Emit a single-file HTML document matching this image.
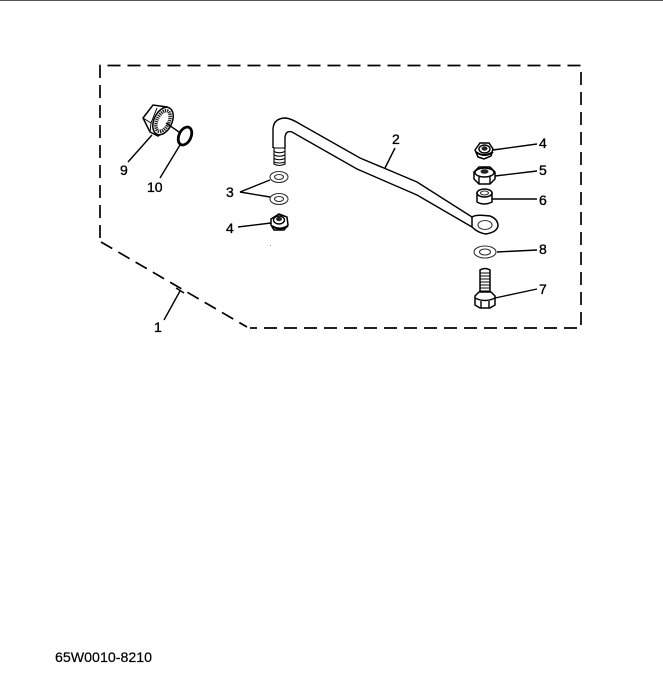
<!DOCTYPE html>
<html>
<head>
<meta charset="utf-8">
<style>
html,body{margin:0;padding:0;background:#fff;width:663px;height:694px;overflow:hidden}
svg{display:block;filter:blur(.3px)}
text{font-family:"Liberation Sans",sans-serif;font-size:14px;fill:#000;stroke:#000;stroke-width:.35}
.l{fill:none;stroke:#000;stroke-width:1.4}
.p{fill:#fff;stroke:#000;stroke-width:1.5}
.w{fill:#fff;stroke:#333;stroke-width:1.1}
.d{fill:none;stroke:#000;stroke-width:1.7;stroke-dasharray:13 7}
</style>
</head>
<body>
<svg width="663" height="694" viewBox="0 0 663 694" xmlns="http://www.w3.org/2000/svg">
<rect x="0" y="0" width="663" height="1" fill="#555"/>

<!-- dashed outline -->
<path class="d" d="M100 238V65.500H581V328H250"/>
<path class="d" d="M101 242L247 327"/>

<!-- rod -->
<path class="l" d="M273 148V130Q273 118 286 118Q292 119 300 124L360 158L417 182L472 217"/>
<path class="l" d="M285 148V137Q286 130 292 132L357 169L417 195L472 227"/>
<path class="p" d="M472 217Q476 214 490 216Q498 219 498 226Q497 232 486 234Q478 233 472 227Z"/>
<ellipse class="w" cx="485" cy="225" rx="7" ry="4.500"/>
<!-- rod thread -->
<path class="l" style="stroke-width:1.100" d="M274 147V164Q279 167 285 164V147M274 148H285M274 151.500Q279 154 285 151.500M274 155Q279 157.500 285 155M274 158.500Q279 161 285 158.500M274 162Q279 164 285 162"/>

<!-- 9 nut -->
<path class="p" d="M143 118L153 105L167 107L173 118L167 130L158 136L150 132Z"/>
<path class="l" style="stroke-width:1" d="M143 118L151 123L150 132M151 123L157 108"/>
<ellipse class="p" cx="163" cy="121" rx="9" ry="14.500" transform="rotate(25 163 121)"/>
<ellipse cx="163" cy="121" rx="6" ry="11" fill="none" style="stroke:#222;stroke-width:3.500;stroke-dasharray:1.300 .8" transform="rotate(25 163 121)"/>
<path class="l" d="M166 123L179 132"/>
<!-- 10 ring -->
<ellipse cx="185" cy="136" rx="6" ry="9.500" fill="#fff" stroke="#000" stroke-width="2.800" transform="rotate(25 185 136)"/>

<!-- 3 washers -->
<ellipse class="w" cx="279" cy="177" rx="9" ry="5.500"/>
<ellipse class="w" cx="279" cy="177" rx="4.500" ry="2.500"/>
<ellipse class="w" cx="279" cy="199" rx="9" ry="5.500"/>
<ellipse class="w" cx="279" cy="199" rx="4.500" ry="2.500"/>

<!-- 4 left nut -->
<path class="p" d="M271 219L279 214L287 217L288 225L284 230H274L271 225Z"/>
<ellipse class="l" cx="279" cy="220" rx="5.500" ry="4"/>
<ellipse cx="279" cy="219" rx="3" ry="2.200" fill="#222"/>
<path class="l" style="stroke-width:2" d="M272 226Q279 231 288 226"/>
<rect x="270" y="245" width="1" height="1" fill="#999"/>

<!-- 4 right nut -->
<path class="p" d="M475 150L480 143H489L493 149L491 156L484 159L478 157Z"/>
<ellipse class="l" cx="484.500" cy="149" rx="5.500" ry="4"/>
<ellipse cx="484.500" cy="148.500" rx="3" ry="2.200" fill="#222"/>
<path class="l" style="stroke-width:2" d="M476 152Q484 158 493 152"/>

<!-- 5 nut -->
<path class="p" d="M474 172L479 167H490L495 172V179L490 184H479L474 179Z"/>
<ellipse class="l" cx="484.500" cy="172.500" rx="9.500" ry="4.500"/>
<ellipse cx="484.500" cy="171.500" rx="4" ry="2.300" fill="#222"/>
<path class="l" d="M479 177V184M490 177V184"/>

<!-- 6 collar -->
<path class="p" d="M477 193V202Q484 206 492 202V193Z"/>
<ellipse class="p" cx="484.500" cy="193" rx="7.500" ry="4"/>
<ellipse class="w" cx="484.500" cy="193" rx="4" ry="2"/>

<!-- 8 washer -->
<ellipse class="w" cx="485" cy="252" rx="11" ry="6"/>
<ellipse class="w" cx="485" cy="252" rx="5.500" ry="3"/>

<!-- 7 bolt -->
<path class="p" d="M480 270Q485 267 490 270V296H480Z"/>
<path class="l" style="stroke-width:1" d="M480 273H490M480 276H490M480 279H490M480 282H490M480 285H490M480 288H490M480 291H490"/>
<path class="p" d="M475 296L479 292H491L495 296V305L490 308H480L475 305Z"/>
<path class="l" d="M475 298Q485 303 495 298M481 301V308M489 301V308"/>

<!-- leaders -->
<path class="l" d="M128 162L152 135"/>
<path class="l" d="M160 178L180 145"/>
<path class="l" d="M164 320L180 291M176 288L184 293"/>
<path class="l" d="M240 192L270 180M240 192L270 197"/>
<path class="l" d="M238 227L271 223"/>
<path class="l" d="M385 168L395 148"/>
<path class="l" d="M493 150L537 144"/>
<path class="l" d="M495 176L537 171"/>
<path class="l" d="M492 199H537"/>
<path class="l" d="M497 252L537 250"/>
<path class="l" d="M495 298L537 289"/>

<!-- labels -->
<text x="120" y="175">9</text>
<text x="147" y="192">10</text>
<text x="226" y="197">3</text>
<text x="226" y="233">4</text>
<text x="154" y="332">1</text>
<text x="392" y="144">2</text>
<text x="539" y="148">4</text>
<text x="539" y="175">5</text>
<text x="539" y="205">6</text>
<text x="539" y="254">8</text>
<text x="539" y="294">7</text>
<text x="55" y="662" style="font-size:13.500px;stroke-width:.2" textLength="97" lengthAdjust="spacingAndGlyphs">65W0010-8210</text>
</svg>
</body>
</html>
